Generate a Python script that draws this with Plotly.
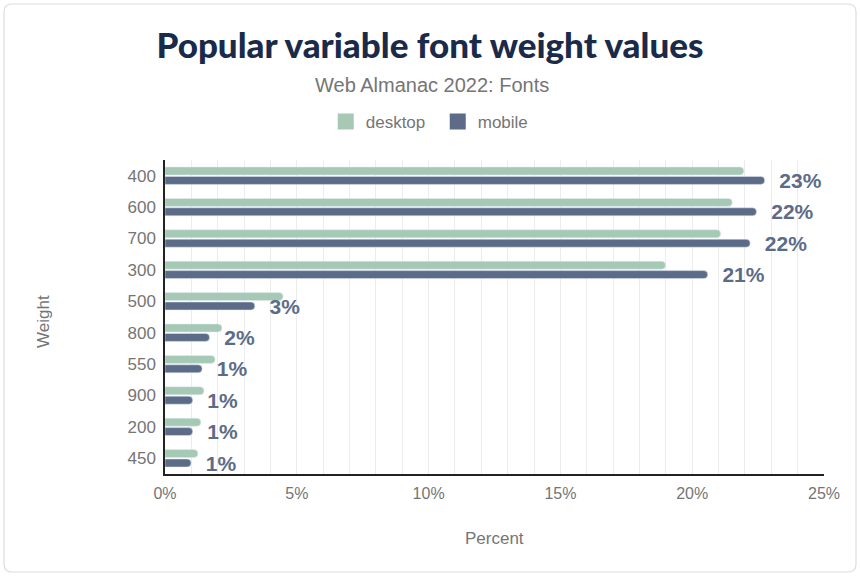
import plotly.graph_objects as go

weights = ["400", "600", "700", "300", "500", "800", "550", "900", "200", "450"]
desktop = [21.96, 21.52, 21.08, 18.99, 4.48, 2.16, 1.90, 1.48, 1.36, 1.25]
mobile = [22.75, 22.44, 22.20, 20.59, 3.41, 1.69, 1.41, 1.05, 1.05, 0.99]

green = "#a6c9b6"
slate = "#5c6c88"
gray = "#757575"
font = "Liberation Sans, Arial, sans-serif"

fig = go.Figure()
fig.add_trace(go.Bar(
    name="desktop", y=weights, x=desktop, orientation="h",
    marker=dict(color=green), showlegend=False,
))
fig.add_trace(go.Bar(
    name="mobile", y=weights, x=mobile, orientation="h",
    marker=dict(color=slate), showlegend=False,
    texttemplate="\u00a0\u00a0%{x:.0f}%", textposition="outside",
    constraintext="none", cliponaxis=False,
    textfont=dict(family=font, size=21, color=slate, weight="bold"),
))
# legend entries with square swatches
for name, col in [("desktop", green), ("mobile", slate)]:
    fig.add_trace(go.Scatter(
        name=name, x=[None], y=[None], mode="markers",
        marker=dict(symbol="square", size=17, color=col),
    ))

# rounded card border, in paper units of the plot area
l, r, t, b = 165, 36, 160, 102
pw, ph = 860 - l - r, 576 - t - b
def px(v):
    return (v - l) / pw
def py(v):
    return (576 - b - v) / ph
x0, x1, y0, y1 = px(4), px(856), py(572), py(4)
rx, ry = 8 / pw, 8 / ph
path = (f"M{x0 + rx},{y1} L{x1 - rx},{y1} Q{x1},{y1} {x1},{y1 - ry} "
        f"L{x1},{y0 + ry} Q{x1},{y0} {x1 - rx},{y0} L{x0 + rx},{y0} "
        f"Q{x0},{y0} {x0},{y0 + ry} L{x0},{y1 - ry} Q{x0},{y1} {x0 + rx},{y1} Z")

fig.update_layout(
    width=860, height=576,
    margin=dict(l=l, r=r, t=t, b=b),
    paper_bgcolor="white", plot_bgcolor="white",
    barmode="group", bargap=0.4, bargroupgap=0.15,
    barcornerradius=4,
    font=dict(family=font, color=gray),
    title=dict(text="Popular variable font weight values",
               font=dict(family="Lato, " + font, size=35, color="#1a2a4a", weight=900),
               x=0.5, xanchor="center", xref="container",
               y=1 - 46 / 576, yanchor="middle", yref="container"),
    legend=dict(orientation="h", xref="container", yref="container",
                x=0.509, xanchor="center", y=1 - 122 / 576, yanchor="middle",
                font=dict(size=17, color=gray), itemwidth=30,
                entrywidth=67, traceorder="normal"),
    shapes=[dict(type="path", path=path, xref="paper", yref="paper",
                 line=dict(color="#dddddd", width=1.2), layer="below")],
    annotations=[
        dict(text="Web Almanac 2022: Fonts", xref="paper", yref="paper",
             x=px(432), y=py(85), xanchor="center", yanchor="middle",
             showarrow=False, font=dict(size=20, color=gray)),
        dict(text="Percent", xref="paper", yref="paper",
             x=0.5, y=py(538), xanchor="center", yanchor="middle",
             showarrow=False, font=dict(size=17, color=gray)),
        dict(text="Weight", xref="paper", yref="paper", textangle=-90,
             x=px(43), y=py(322), xanchor="center", yanchor="middle",
             showarrow=False, font=dict(size=17, color=gray)),
    ],
)

fig.update_xaxes(
    range=[0, 25], dtick=5, ticksuffix="%",
    showgrid=True, gridcolor="#ececec", gridwidth=1,
    minor=dict(dtick=1, showgrid=True, gridcolor="#ececec"),
    showline=True, linecolor="#222222", linewidth=1.5,
    tickfont=dict(size=16, color=gray), ticks="", ticklabelstandoff=4,
    zeroline=False, fixedrange=True, automargin=False,
)
fig.update_yaxes(
    autorange="reversed", showline=True, linecolor="#222222", linewidth=1.5,
    tickfont=dict(size=17, color=gray), ticks="", ticklabelstandoff=4,
    showgrid=False, automargin=False,
)

fig.write_html("out.html", config={"displayModeBar": False},
               post_script="document.body.style.margin='0';")
